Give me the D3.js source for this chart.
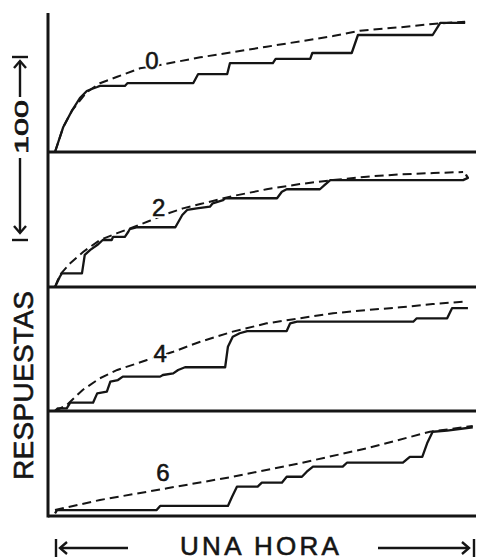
<!DOCTYPE html>
<html><head><meta charset="utf-8">
<script src="https://cdn.jsdelivr.net/npm/d3@7"></script>
<style>
html,body{margin:0;padding:0;background:#fff;}
svg{display:block;}
text{font-family:"Liberation Sans",Arial,Helvetica,sans-serif;fill:#151515;}
</style></head>
<body>
<svg id="chart" width="477" height="560"></svg>
<script>
// ---- data: time in minutes (0-60), cumulative responses ----
const panelLabels = ["0", "2", "4", "6"];
const xLabel = "UNA HORA";
const yLabel = "RESPUESTAS";
const scaleLabel = "100";

const solid0 = [[0,0],[1.2,13.9],[2.5,23.3],[3.6,30],[4.6,33.9],[5.3,35],[6.1,36.1],[6.5,36.7],[10.1,36.7],[10.5,38.3],[20,38.3],[20.7,43.3],[24.9,43.3],[25.3,49.4],[31.5,49.4],[31.9,51.7],[36.9,51.7],[37.2,55],[42.9,55],[43.8,65],[54.6,65],[55.7,71.7],[59.3,71.7]];
const dashed0 = [[0,0],[1.2,13.9],[2.5,23.3],[4.6,33.3],[6.5,38.2],[9,41.8],[12.3,46.5],[14,47.5],[21,52.6],[30.6,58.5],[40.2,64.4],[44.1,67.4],[49.9,69.3],[54.6,71.1],[59.3,72.4]];

const solid2 = [[0,0],[0.7,5.7],[1,7.6],[3.9,7.6],[4.3,17.8],[5.1,20.6],[6.1,23.3],[6.9,26.1],[8.2,26.1],[8.4,27.9],[10.1,27.9],[10.6,30.7],[10.8,32.1],[11.9,33.2],[17.4,33.2],[18.4,40],[19.1,42.8],[20.5,43.7],[22.4,44.6],[22.8,46.5],[24.3,48.3],[24.6,49.3],[32.1,49.3],[32.8,52.9],[33.5,54.3],[38.3,54.3],[39,56.7],[39.8,59.4],[59,59.4],[59.7,60.6],[59.4,62.5]];
const dashed2 = [[0,0],[0.7,6.7],[2.2,13.2],[4.1,19.6],[6.5,26.1],[8.9,29.8],[11.3,33.2],[13.7,36.8],[16.1,40.6],[18.5,43.7],[21,46.1],[25.8,50.6],[30.6,54.3],[35.4,57.2],[40.2,59.4],[45.1,61.3],[49.9,62.6],[54.7,63.3],[59,63.9]];

const solid4 = [[0,0],[0.4,1.5],[1.7,1.5],[2.2,4.6],[5.5,4.6],[6.1,9.8],[7.5,10.7],[8,16.3],[9.1,17.2],[9.8,19.1],[15.2,19.1],[15.6,20],[17.1,20.9],[17.8,22.8],[18.8,24.3],[24.6,24.3],[25,35.7],[25.7,41.3],[26.7,43.2],[27.8,44.4],[33.5,44.4],[34,48.7],[35,49.6],[51.8,49.6],[52.3,51.5],[56.7,51.5],[57.4,57.1],[59.7,57.1]];
const dashed4 = [[0,0],[1.7,3.3],[4,11.7],[6.5,18.2],[9,22.8],[13.3,28.3],[17.1,32.9],[21,38.5],[25.7,44.1],[30.6,48.7],[35.4,51.5],[40.2,54.3],[45.1,56.1],[49.9,57.6],[54.6,59.4],[59,60.7]];

const solid6 = [[0,1.5],[0.3,3.3],[14.7,3.3],[15.2,5.6],[25,5.6],[25.6,10.7],[26.3,16.3],[29.3,16.3],[29.9,18.5],[32.8,18.5],[33.5,21.8],[35.7,21.8],[36.4,24.6],[37.3,27.4],[41.6,27.4],[42.2,29.6],[50.3,29.6],[51.3,32.9],[53.1,32.9],[53.8,40.4],[54.6,46.8],[56.7,47.4],[60.4,49.3]];
const dashed6 = [[0,3.3],[6.5,8.9],[16.2,15.4],[25.7,21.8],[35.4,29.3],[45.1,37.6],[54.2,46.8],[60.4,50]];

const labelPos = [[14,50.6],[15,43.9],[15.2,32.2],[15.6,23.9]];

// ---- layout ----
const solids = [solid0, solid2, solid4, solid6];
const dasheds = [dashed0, dashed2, dashed4, dashed6];
const baselines = [152, 287, 411, 516];
const axisX = 48, axisTop = 13, rightEdge = 476;
const ink = "#151515";

const svg = d3.select("#chart");
svg.append("rect").attr("width",477).attr("height",560).attr("fill","#fff");

const x = d3.scaleLinear().domain([0,60]).range([55,470]);

panelLabels.forEach((lab,i)=>{
  const b = baselines[i];
  const y = d3.scaleLinear().domain([0,100]).range([b, b-180]);
  const line = d3.line().x(d=>x(d[0])).y(d=>y(d[1]));
  svg.append("line").attr("x1",axisX).attr("x2",rightEdge).attr("y1",b).attr("y2",b)
    .attr("stroke",ink).attr("stroke-width",2.8);
  svg.append("path").attr("d",line(dasheds[i])).attr("fill","none")
    .attr("stroke",ink).attr("stroke-width",2).attr("stroke-dasharray","9,5");
  svg.append("path").attr("d",line(solids[i])).attr("fill","none")
    .attr("stroke",ink).attr("stroke-width",2.3).attr("stroke-linejoin","round");
  const lx = x(labelPos[i][0]), ly = y(labelPos[i][1]);
  svg.append("text").attr("x",lx).attr("y",ly)
    .attr("text-anchor","middle").attr("dominant-baseline","central")
    .attr("font-size",24).attr("fill","#fff")
    .attr("stroke","#fff").attr("stroke-width",4)
    .text(lab);
  svg.append("text").attr("x",lx).attr("y",ly)
    .attr("text-anchor","middle").attr("dominant-baseline","central")
    .attr("font-size",24).attr("stroke",ink).attr("stroke-width",0.6)
    .text(lab);
});

// vertical axis
svg.append("line").attr("x1",axisX).attr("x2",axisX).attr("y1",axisTop).attr("y2",baselines[3]+1.4)
  .attr("stroke",ink).attr("stroke-width",3);

// y label
svg.append("text").attr("transform","translate(33,480) rotate(-90)")
  .attr("font-size",28).attr("letter-spacing",0.3).attr("text-anchor","start")
  .attr("stroke",ink).attr("stroke-width",0.6)
  .text(yLabel);

// "100" scale indicator
svg.append("text").attr("transform","translate(27.5,154) rotate(-90)")
  .attr("font-size",19).attr("text-anchor","start")
  .attr("textLength",54).attr("lengthAdjust","spacingAndGlyphs")
  .attr("stroke",ink).attr("stroke-width",0.7)
  .text(scaleLabel);
const g = svg.append("g").attr("stroke",ink).attr("stroke-width",2.4).attr("fill","none");
g.append("line").attr("x1",12).attr("x2",28).attr("y1",57).attr("y2",57);
g.append("line").attr("x1",20).attr("x2",20).attr("y1",97).attr("y2",61);
g.append("path").attr("d","M14,68 L20,61 L26,68");
g.append("line").attr("x1",20).attr("x2",20).attr("y1",158).attr("y2",233);
g.append("path").attr("d","M14,226 L20,233 L26,226");
g.append("line").attr("x1",12).attr("x2",28).attr("y1",240).attr("y2",240);

// bottom "UNA HORA" with arrows
svg.append("text").attr("x",180).attr("y",555)
  .attr("font-size",26).attr("letter-spacing",3.3)
  .attr("stroke",ink).attr("stroke-width",0.6)
  .text(xLabel);
g.append("line").attr("x1",56).attr("x2",56).attr("y1",539).attr("y2",557);
g.append("line").attr("x1",60).attr("x2",128).attr("y1",548).attr("y2",548);
g.append("path").attr("d","M67,542 L60,548 L67,554");
g.append("line").attr("x1",378).attr("x2",469).attr("y1",548).attr("y2",548);
g.append("path").attr("d","M462,542 L469,548 L462,554");
g.append("line").attr("x1",474).attr("x2",474).attr("y1",539).attr("y2",557);
</script>
</body></html>
